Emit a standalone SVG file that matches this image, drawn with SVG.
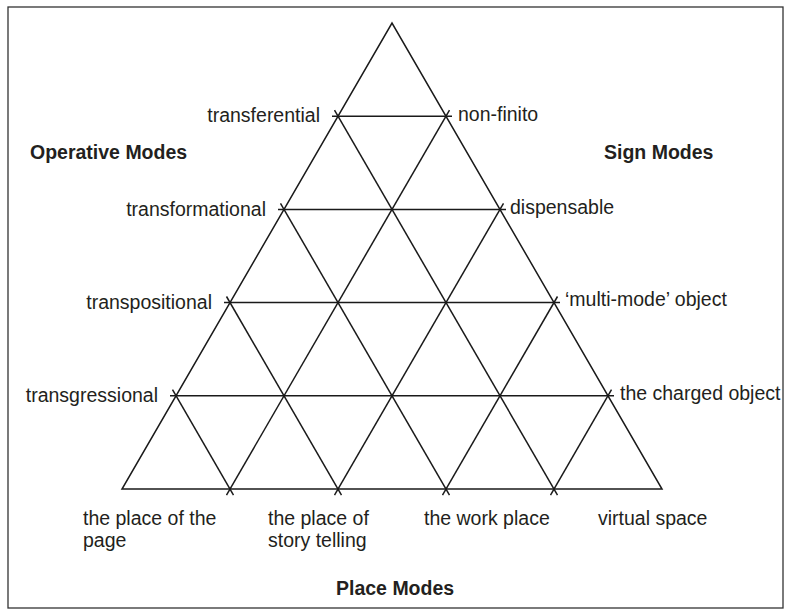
<svg xmlns="http://www.w3.org/2000/svg" width="791" height="616" viewBox="0 0 791 616">
  <style>
    .ln { stroke: #1a1a1a; stroke-width: 1.5; fill: none; stroke-linecap: butt; }
    .lbl { font-family: "Liberation Sans", Arial, Helvetica, sans-serif; font-size: 19.5px; fill: #231f20; }
    .hd { font-family: "Liberation Sans", Arial, Helvetica, sans-serif; font-size: 19.5px; font-weight: bold; fill: #231f20; }
    .end { text-anchor: end; }
  </style>
  <rect x="0" y="0" width="791" height="616" fill="#ffffff"/>
  <rect id="frame" x="8" y="7" width="775" height="601" fill="none" stroke="#333333" stroke-width="1.3"/>

  <g id="triangle">
    <polygon class="ln" points="122,489 662,489 392,23" stroke-linejoin="miter"/>
  </g>

  <g id="connectors">
    <line class="ln" x1="170" y1="395.8" x2="614" y2="395.8"/>
    <line class="ln" x1="224" y1="302.6" x2="560" y2="302.6"/>
    <line class="ln" x1="278" y1="209.4" x2="506" y2="209.4"/>
    <line class="ln" x1="332" y1="116.2" x2="452" y2="116.2"/>
    <line class="ln" x1="226.5" y1="495.1" x2="449.5" y2="110.1"/>
    <line class="ln" x1="334.5" y1="495.1" x2="503.5" y2="203.3"/>
    <line class="ln" x1="442.5" y1="495.1" x2="557.5" y2="296.5"/>
    <line class="ln" x1="550.5" y1="495.1" x2="611.5" y2="389.7"/>
    <line class="ln" x1="233.5" y1="495.1" x2="172.5" y2="389.7"/>
    <line class="ln" x1="341.5" y1="495.1" x2="226.5" y2="296.5"/>
    <line class="ln" x1="449.5" y1="495.1" x2="280.5" y2="203.3"/>
    <line class="ln" x1="557.5" y1="495.1" x2="334.5" y2="110.1"/>
  </g>

  <g id="operative-modes"><text class="hd" x="30" y="159">Operative Modes</text></g>
  <g id="sign-modes"><text class="hd" x="604" y="159">Sign Modes</text></g>
  <g id="place-modes"><text class="hd" x="336" y="595">Place Modes</text></g>

  <g id="transferential"><text class="lbl end" x="320" y="122">transferential</text></g>
  <g id="transformational"><text class="lbl end" x="266" y="215.5">transformational</text></g>
  <g id="transpositional"><text class="lbl end" x="212" y="308.5">transpositional</text></g>
  <g id="transgressional"><text class="lbl end" x="158" y="402">transgressional</text></g>

  <g id="non-finito"><text class="lbl" x="458" y="121">non-finito</text></g>
  <g id="dispensable"><text class="lbl" x="510" y="214">dispensable</text></g>
  <g id="multi-mode-object"><text class="lbl" x="565" y="306">‘multi-mode’ object</text></g>
  <g id="charged-object"><text class="lbl" x="620" y="400">the charged object</text></g>

  <g id="place-of-the-page"><text class="lbl" x="83" y="525">the place of the<tspan x="83" y="547">page</tspan></text></g>
  <g id="place-of-story-telling"><text class="lbl" x="268" y="525">the place of<tspan x="268" y="547">story telling</tspan></text></g>
  <g id="work-place"><text class="lbl" x="424" y="525">the work place</text></g>
  <g id="virtual-space"><text class="lbl" x="598" y="525">virtual space</text></g>
</svg>
